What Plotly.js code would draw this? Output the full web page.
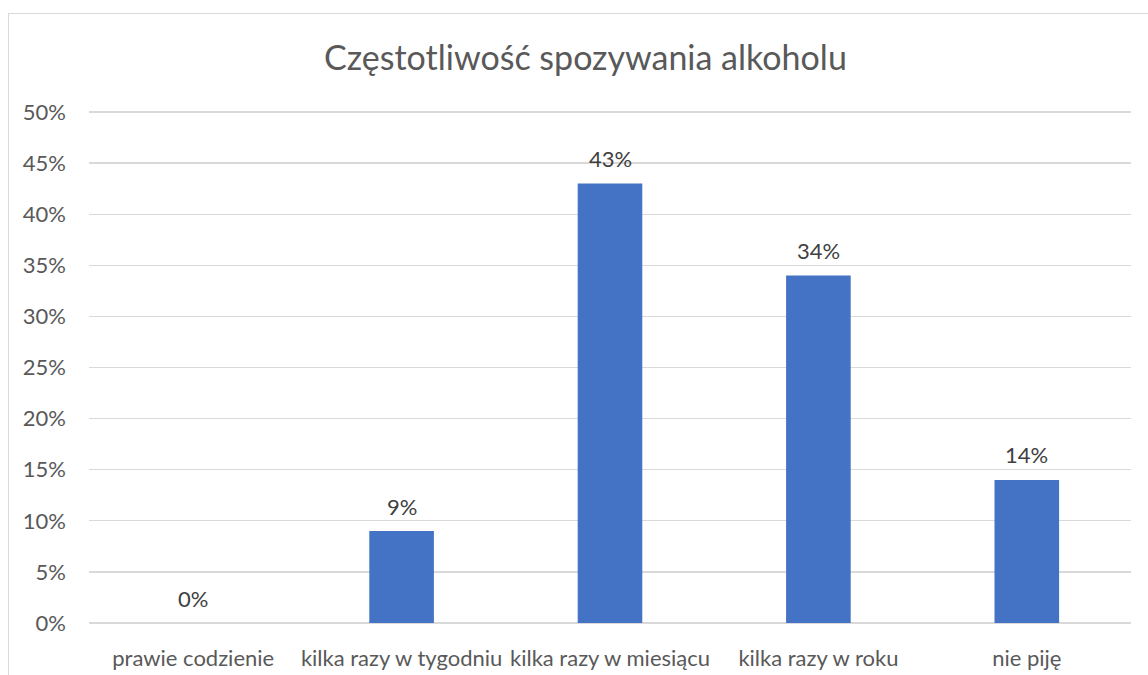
<!DOCTYPE html>
<html>
<head>
<meta charset="utf-8">
<script src="https://cdn.plot.ly/plotly-3.0.1.min.js"></script>
<style>
  html, body { margin: 0; padding: 0; background: #ffffff; overflow: hidden; }
  #frame { position: absolute; left: 8px; top: 13px; width: 1200px; height: 700px; border-left: 1px solid #d9d9d9; border-top: 1px solid #d9d9d9; }
  #chart { position: absolute; left: 0; top: 0; width: 1148px; height: 675px; }
</style>
</head>
<body>
<div id="frame"></div>
<div id="chart"></div>
<script>
const categories = ["prawie codzienie", "kilka razy w tygodniu", "kilka razy w miesiącu", "kilka razy w roku", "nie piję"];
const values = [0.00, 0.09, 0.43, 0.34, 0.14];
const valueLabels = ["0%", "9%", "43%", "34%", "14%"];
const yTickValues = [0, 0.05, 0.10, 0.15, 0.20, 0.25, 0.30, 0.35, 0.40, 0.45, 0.50];
const yTickLabels = ["0%", "5%", "10%", "15%", "20%", "25%", "30%", "35%", "40%", "45%", "50%"];
const chartTitle = "Częstotliwość spozywania alkoholu";

const fontFamily = "Lato, 'Open Sans', sans-serif";
const textColor = "#595959";

const trace = {
  type: "bar",
  x: categories,
  y: values,
  marker: { color: "#4472c4" },
  hoverinfo: "skip"
};

const annotations = categories.map((c, i) => ({
  x: c, y: values[i], xref: "x", yref: "y",
  text: valueLabels[i], showarrow: false,
  yanchor: "middle", yshift: 25,
  font: { family: fontFamily, size: 22, color: "#404040" }
}));

const layout = {
  width: 1148, height: 675,
  paper_bgcolor: "rgba(0,0,0,0)",
  plot_bgcolor: "rgba(0,0,0,0)",
  margin: { l: 89, r: 17, t: 110, b: 52, pad: 0 },
  title: { text: chartTitle, font: { family: fontFamily, size: 34, color: textColor }, x: 0.51, xanchor: "center", y: 0.914, yanchor: "middle" },
  bargap: 0.69,
  showlegend: false,
  xaxis: {
    type: "category",
    showgrid: false, zeroline: false, showline: false,
    ticks: "", ticklabelstandoff: 20,
    tickfont: { family: fontFamily, size: 22, color: textColor }
  },
  yaxis: {
    range: [0, 0.502],
    tickvals: yTickValues, ticktext: yTickLabels,
    showgrid: true, gridcolor: "#d9d9d9", gridwidth: 1.3,
    zeroline: true, zerolinecolor: "#d9d9d9", zerolinewidth: 1.3,
    showline: false, ticks: "", ticklabelstandoff: 22,
    tickfont: { family: fontFamily, size: 22, color: textColor }
  },
  annotations: annotations
};

Plotly.newPlot("chart", [trace], layout, { staticPlot: true, displayModeBar: false });
</script>
</body>
</html>
